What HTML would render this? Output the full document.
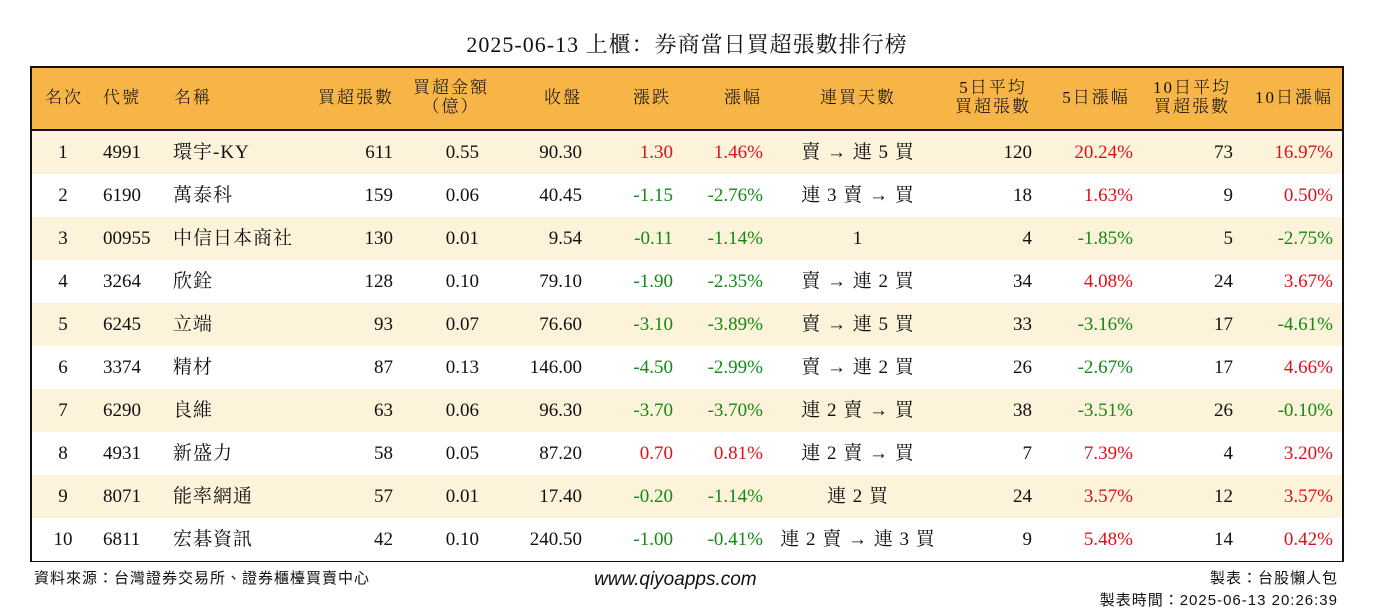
<!DOCTYPE html>
<html><head><meta charset="utf-8">
<style>
body{margin:0;width:1374px;height:612px;background:#fff;position:relative;overflow:hidden;font-family:"Liberation Serif","Noto Serif CJK SC","Noto Sans CJK TC",serif;color:#111}
.title{position:absolute;left:0;width:1374px;top:28px;text-align:center;font-size:22px;font-weight:normal;letter-spacing:1px}
#tbl{position:absolute;left:30px;top:66px;width:1310px;height:492px;border:2px solid #111}
.hdr{position:absolute;left:0;top:0;width:1310px;height:61px;background:#F7B548;border-bottom:2px solid #111}
.row{position:absolute;left:0;width:1310px;height:43px}
.c{position:absolute;white-space:nowrap;font-size:19px;line-height:43px}
.h{position:absolute;white-space:nowrap;font-size:17px;line-height:19px;text-align:center;letter-spacing:2px;font-weight:300}
.red{color:#e0101a}.grn{color:#138a13}
.foot{position:absolute;font-size:15px;font-family:"Liberation Sans","Noto Sans CJK TC",sans-serif;letter-spacing:1px}
</style></head><body>
<div class="title">2025-06-13 上櫃：券商當日買超張數排行榜</div>
<div id="tbl">
<div class="hdr"></div>
</div>
<div class="foot" style="left:34px;top:567px">資料來源：台灣證券交易所、證券櫃檯買賣中心</div>
<div class="foot" style="left:594px;top:569px;font-size:19px;font-style:italic;letter-spacing:0">www.qiyoapps.com</div>
<div class="foot" style="right:36px;top:567px">製表：台股懶人包</div>
<div class="foot" style="right:36px;top:589px">製表時間：2025-06-13 20:26:39</div>
<script>
const ranks=[1,2,3,4,5,6,7,8,9,10];
const codes=["4991","6190","00955","3264","6245","3374","6290","4931","8071","6811"];
const names=["環宇-KY","萬泰科","中信日本商社","欣銓","立端","精材","良維","新盛力","能率網通","宏碁資訊"];
const netBuy=[611,159,130,128,93,87,63,58,57,42];
const amount=["0.55","0.06","0.01","0.10","0.07","0.13","0.06","0.05","0.01","0.10"];
const closePx=["90.30","40.45","9.54","79.10","76.60","146.00","96.30","87.20","17.40","240.50"];
const change=["1.30","-1.15","-0.11","-1.90","-3.10","-4.50","-3.70","0.70","-0.20","-1.00"];
const changePct=["1.46%","-2.76%","-1.14%","-2.35%","-3.89%","-2.99%","-3.70%","0.81%","-1.14%","-0.41%"];
const streak=["賣 → 連 5 買","連 3 賣 → 買","1","賣 → 連 2 買","賣 → 連 5 買","賣 → 連 2 買","連 2 賣 → 買","連 2 賣 → 買","連 2 買","連 2 賣 → 連 3 買"];
const avg5=[120,18,4,34,33,26,38,7,24,9];
const pct5=["20.24%","1.63%","-1.85%","4.08%","-3.16%","-2.67%","-3.51%","7.39%","3.57%","5.48%"];
const avg10=[73,9,5,24,17,17,26,4,12,14];
const pct10=["16.97%","0.50%","-2.75%","3.67%","-4.61%","4.66%","-0.10%","3.20%","3.57%","0.42%"];
const headers=[["名次",32,"c"],["代號",90,"c"],["名稱",142,"l"],["買超張數",362,"r"],["買超金額<br>（億）",419,"c"],["收盤",531,"c"],["漲跌",620,"c"],["漲幅",711,"c"],["連買天數",826,"c"],["5日平均<br>買超張數",961,"c"],["5日漲幅",1064,"c"],["10日平均<br>買超張數",1160,"c"],["10日漲幅",1262,"c"]];
const tbl=document.getElementById('tbl');
const hdr=tbl.querySelector('.hdr');
headers.forEach((h,i)=>{
  const d=document.createElement('div');d.className='h';d.innerHTML=h[0];
  
  
  const two=h[0].includes('<br>');
  d.style.top=(two?10:20)+'px';
  d.style.left=(h[1]-(h[2]=='c'?60:0))+'px';
  if(h[2]=='c'){d.style.width='120px';}
  if(h[2]=='r'){d.style.left=(h[1]-100)+'px';d.style.width='100px';d.style.textAlign='right';}
  if(h[2]=='l'){d.style.textAlign='left';}
  hdr.appendChild(d);
});
function cell(row,text,x,align,cls){
  const d=document.createElement('div');d.className='c '+(cls||'');d.textContent=text;
  
  
  if(align=='l'){d.style.left=x+'px';}
  else if(align=='r'){d.style.left=(x-150)+'px';d.style.width='150px';d.style.textAlign='right';}
  else{d.style.left=(x-100)+'px';d.style.width='200px';d.style.textAlign='center';}
  row.appendChild(d);
  return d;
}
function col(v){return String(v).startsWith('-')?'grn':'red';}
ranks.forEach((r,i)=>{
  const row=document.createElement('div');row.className='row';
  
  
  row.style.top=(63+i*43)+'px';
  row.style.background=i%2==0?'#FDF2DA':'#fff';
  cell(row,r,31,'c');
  cell(row,codes[i],71,'l');
  cell(row,names[i],141,'l').style.letterSpacing='1px';
  cell(row,netBuy[i],361,'r');
  cell(row,amount[i],447,'r');
  cell(row,closePx[i],550,'r');
  cell(row,change[i],641,'r',col(change[i]));
  cell(row,changePct[i],731,'r',col(changePct[i]));
  cell(row,streak[i],826,'c').style.letterSpacing='1px';
  cell(row,avg5[i],1000,'r');
  cell(row,pct5[i],1101,'r',col(pct5[i]));
  cell(row,avg10[i],1201,'r');
  cell(row,pct10[i],1301,'r',col(pct10[i]));
  tbl.appendChild(row);
});
</script>
</body></html>
